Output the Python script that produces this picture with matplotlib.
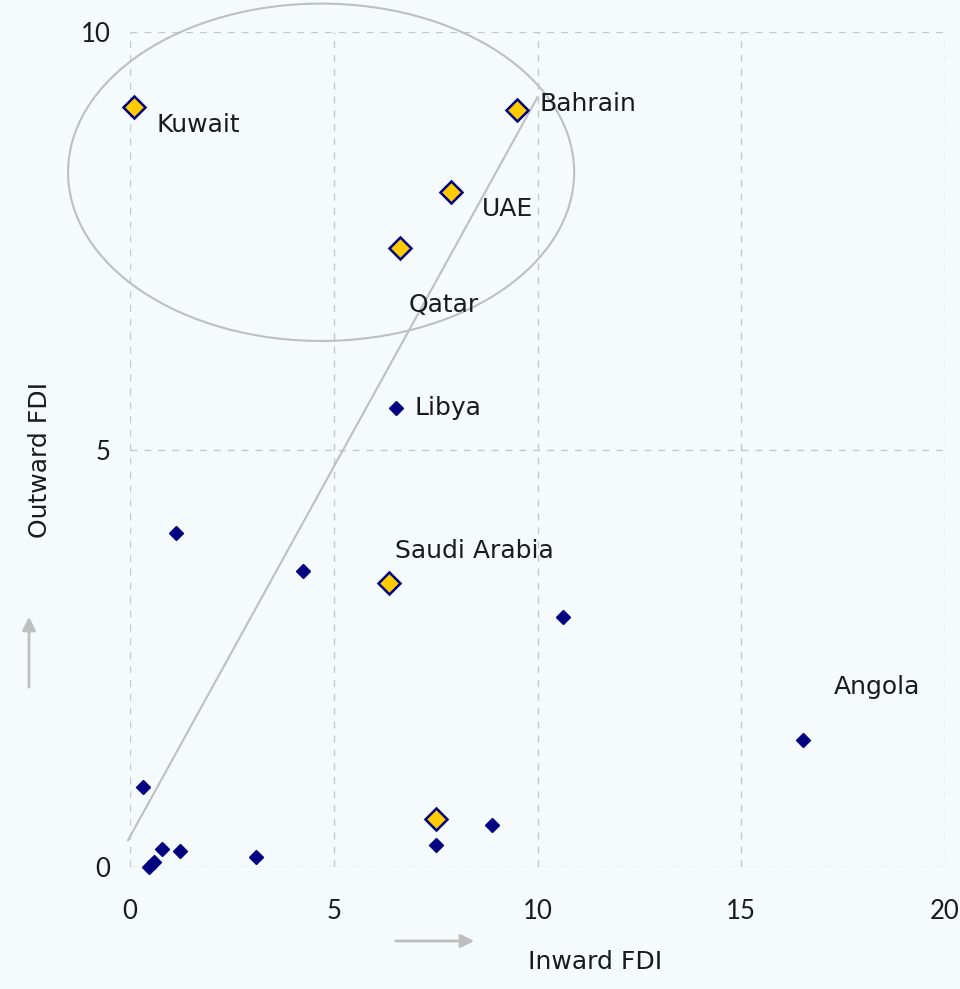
import matplotlib
matplotlib.use("Agg")
import matplotlib.pyplot as plt
from matplotlib.patches import Ellipse, FancyArrowPatch

plt.rcParams['font.family'] = ['DejaVu Sans']

# Highlighted economies (inward FDI, outward FDI)
hl_names = ["Kuwait", "Bahrain", "UAE", "Qatar", "Saudi Arabia", ""]
hl_x = [0.10, 9.50, 7.88, 6.63, 6.36, 7.51]
hl_y = [9.10, 9.07, 8.08, 7.41, 3.40, 0.57]

# Other economies
ot_names = ["Libya", "Angola", "", "", "", "", "", "", "", "", "", "", ""]
ot_x = [6.53, 16.52, 1.13, 4.25, 10.63, 8.88, 7.51, 0.32, 0.79, 1.23, 3.08, 0.60, 0.47]
ot_y = [5.50, 1.52, 4.00, 3.54, 2.99, 0.50, 0.26, 0.96, 0.21, 0.19, 0.12, 0.06, 0.00]

# Trend line end points
trend_x = [-0.05, 10.0]
trend_y = [0.32, 9.22]

x_ticks = [0, 5, 10, 15, 20]
y_ticks = [0, 5, 10]

bg = "#F5FAFD"
navy = "#000080"
gold = "#FFCC00"
grey = "#BFBFBF"
txt = "#1a1a1a"

fig = plt.figure(figsize=(9.6, 9.89), dpi=100, facecolor=bg)
ax = fig.add_axes([130 / 960, 1 - 867 / 989, 815 / 960, 835 / 989], facecolor=bg)
ax.set_xlim(0, 20)
ax.set_ylim(0, 10)

for s in ax.spines.values():
    s.set_visible(False)
ax.set_xticks(x_ticks)
ax.set_yticks(y_ticks)
ax.tick_params(length=0, labelsize=18.5, colors=txt)
for lab in ax.get_xticklabels() + ax.get_yticklabels():
    lab.set_family(['Lato', 'DejaVu Sans'])
ax.tick_params(axis="x", pad=23)
ax.tick_params(axis="y", pad=14)
ax.grid(True, color="#C8C8C8", linestyle=(0, (5, 5)), linewidth=1)
ax.set_axisbelow(True)

# Trend line and highlight ellipse
ax.plot(trend_x, trend_y, color=grey, lw=1.5, zorder=2, clip_on=False)
ax.add_patch(Ellipse((4.69, 8.32), 12.42, 4.04, fill=False, edgecolor=grey,
                     lw=1.5, zorder=2, clip_on=False))

ax.plot(ot_x, ot_y, linestyle="none", marker="D", ms=7, color=navy,
        zorder=3, clip_on=False)
ax.plot(hl_x, hl_y, linestyle="none", marker="D", ms=11.5, markerfacecolor=gold,
        markeredgecolor=navy, markeredgewidth=1.8, zorder=4, clip_on=False)

label_offsets = {
    "Kuwait": (0.55, -0.21),
    "Bahrain": (0.55, 0.07),
    "UAE": (0.75, -0.20),
    "Qatar": (0.20, -0.68),
    "Saudi Arabia": (0.15, 0.39),
    "Libya": (0.45, 0.00),
    "Angola": (0.75, 0.63),
}
for n, x, y in zip(hl_names + ot_names, hl_x + ot_x, hl_y + ot_y):
    if n:
        dx, dy = label_offsets[n]
        ax.text(x + dx, y + dy, n, fontsize=18, color=txt,
                ha="left", va="center", zorder=5)

# Axis titles with direction arrows
fig.text(595 / 960, 1 - 962 / 989, "Inward FDI", fontsize=18, color=txt,
         ha="center", va="center")
fig.text(40 / 960, 1 - 460 / 989, "Outward FDI", fontsize=18, color=txt,
         ha="center", va="center", rotation=90)
for p0, p1 in [((393, 941), (477, 941)), ((29, 690), (29, 614))]:
    fig.add_artist(FancyArrowPatch(
        (p0[0] / 960, 1 - p0[1] / 989), (p1[0] / 960, 1 - p1[1] / 989),
        transform=fig.transFigure, arrowstyle="-|>,head_length=8,head_width=4",
        color=grey, lw=2, mutation_scale=1))

fig.savefig("out.png", dpi=100, facecolor=bg)
